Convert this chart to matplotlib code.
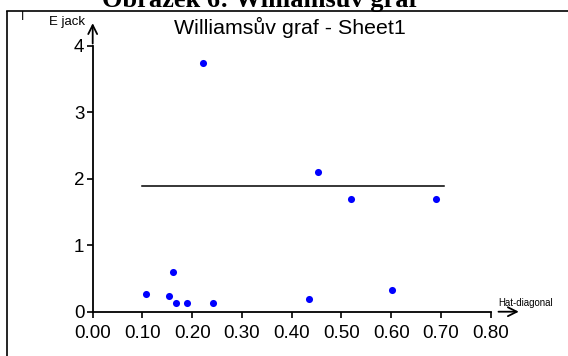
import matplotlib
matplotlib.use("Agg")
from matplotlib import pyplot as plt
from matplotlib.lines import Line2D

# Williams plot values
hat_diag = [0.107, 0.153, 0.161, 0.167, 0.189, 0.222, 0.242, 0.435, 0.452, 0.519, 0.602, 0.691]
e_jack = [0.27, 0.24, 0.59, 0.13, 0.13, 3.74, 0.13, 0.19, 2.10, 1.70, 0.32, 1.70]

# horizontal limit line
limit_x = [0.10, 0.707]
limit_y = [1.89, 1.89]

x_ticks = [0.0, 0.1, 0.2, 0.3, 0.4, 0.5, 0.6, 0.7, 0.8]
x_labels = ["0.00", "0.10", "0.20", "0.30", "0.40", "0.50", "0.60", "0.70", "0.80"]
y_ticks = [0, 1, 2, 3, 4]

plt.rcParams["font.family"] = ["Liberation Sans", "DejaVu Sans"]

fig = plt.figure(figsize=(5.68, 3.56), dpi=100)
ax = fig.add_axes([0.1632, 0.1244, 0.7533, 0.8146])
ax.set_xlim(0, 0.86)
ax.set_ylim(0, 4.36)

ax.scatter(hat_diag, e_jack, s=26, color="#0000ff", zorder=3, linewidths=0)
ax.plot(limit_x, limit_y, color="black", lw=1.1)

for side in ["top", "right"]:
    ax.spines[side].set_visible(False)
ax.spines["bottom"].set_bounds(0, 0.8)
ax.spines["left"].set_bounds(0, 4)
ax.spines["bottom"].set_linewidth(1.3)
ax.spines["left"].set_linewidth(1.3)

ax.set_xticks(x_ticks)
ax.set_xticklabels(x_labels)
ax.set_yticks(y_ticks)
ax.tick_params(axis="both", direction="out", length=4.5, width=1.2, labelsize=13.5)
ax.tick_params(axis="x", pad=5)
ax.tick_params(axis="y", pad=1.5)

# axis arrows
ax.annotate("", xy=(0.862, 0), xytext=(0.81, 0), xycoords="data",
            arrowprops=dict(arrowstyle="->", lw=1.3, color="black", mutation_scale=16),
            annotation_clip=False)
ax.annotate("", xy=(0, 4.38), xytext=(0, 3.99), xycoords="data",
            arrowprops=dict(arrowstyle="->", lw=1.3, color="black", mutation_scale=16),
            annotation_clip=False)

fig.text(85 / 568, 1 - 22 / 356, "E jack", fontsize=9.5, ha="right", va="center")
fig.text(498 / 568, 1 - 303 / 356, "Hat-diagonal", fontsize=6.9, ha="left", va="center")
fig.text(290 / 568, 1 - 27 / 356, "Williamsův graf - Sheet1", fontsize=15.4, ha="center", va="center")

# caption above the frame, cut by the top edge as in the original
fig.text(260 / 568, 1 - 7 / 356, "Obrázek 6: Williamsův graf", fontsize=19, fontweight="bold",
         family=["Liberation Serif", "DejaVu Serif"], ha="center", va="baseline")

# frame lines
fig.add_artist(Line2D([7 / 568, 1.0], [1 - 11 / 356, 1 - 11 / 356], color="black", lw=1.2))
fig.add_artist(Line2D([7 / 568, 7 / 568], [0, 1 - 11 / 356], color="black", lw=1.2,
                      solid_capstyle="butt"))
fig.text(22 / 568, 1 - 20 / 356, "I", fontsize=8.5, ha="center", va="baseline")

fig.savefig("out.png", dpi=100)
